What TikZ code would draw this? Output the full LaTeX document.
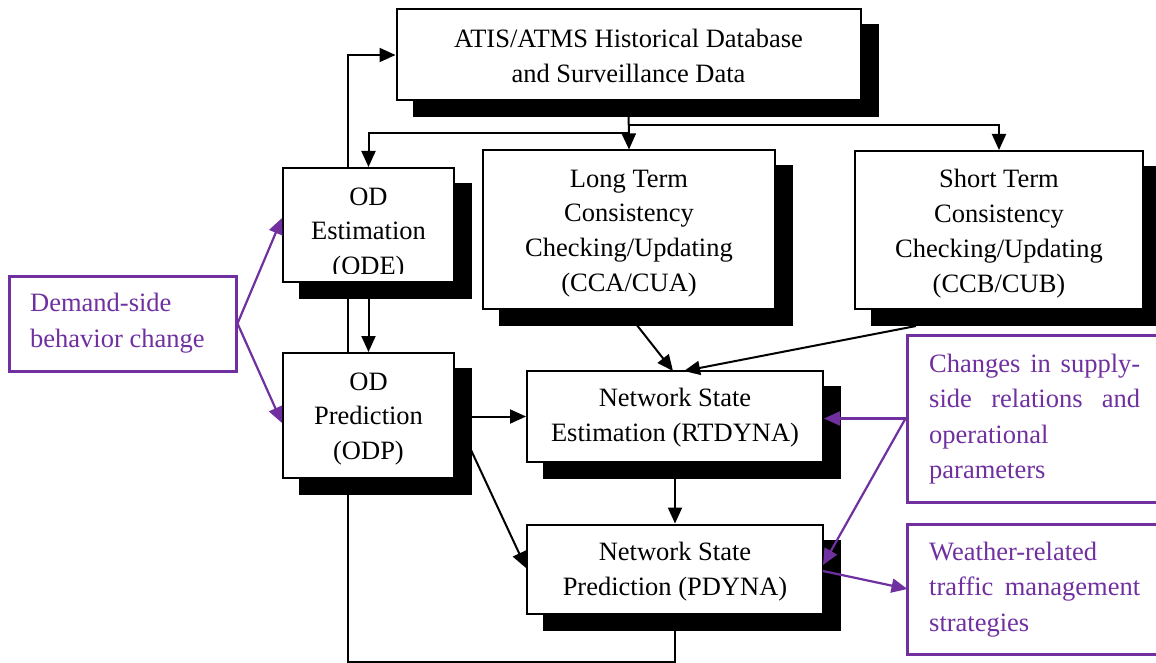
\documentclass[tikz,border=0pt]{standalone}
\usepackage{fontspec}
\setmainfont{Liberation Serif}
\usetikzlibrary{arrows.meta,backgrounds}
\definecolor{purp}{RGB}{112,48,160}
\tikzset{
  blackbox/.style={draw=black, line width=2pt, fill=white, inner sep=0pt, align=center,
    font=\fontsize{26.5}{34.8}\selectfont},
  purpbox/.style={draw=purp, line width=3pt, fill=white, inner sep=0pt},
  ptext/.style={text=purp, inner sep=0pt, align=left, anchor=north west,
    font=\fontsize{26.5}{35.5}\selectfont},
  conn/.style={line width=2pt, -{Triangle[length=16pt,width=14pt]}},
  pconn/.style={color=purp, line width=2.2pt, -{Triangle[length=16pt,width=14pt]}},
  loopline/.style={line width=2pt},
  shadowfill/.style={fill=black}
}
\begin{document}
\begin{tikzpicture}[x=1pt,y=-1pt]
\useasboundingbox (0,0) rectangle (1156,663);
\clip (0,0) rectangle (1156,663);

% black boxes
\node[blackbox, minimum width=464pt, minimum height=91pt] (atis) at (628.5,55) {};
\node[blackbox, draw=none, fill=none] (atistext) at (628.5,56) {ATIS/ATMS Historical Database\\and Surveillance Data};
\node[blackbox, minimum width=171pt, minimum height=114pt] (ode) at (368.5,225) {};
\begin{scope}
  \clip (ode.north west) rectangle ([yshift=10pt]ode.south east);
  \node[blackbox, draw=none, fill=none] (odetext) at (368.5,234) {OD\\Estimation\\(ODE)};
\end{scope}
\node[blackbox, minimum width=171pt, minimum height=125pt] (odp) at (368.5,415.5) {};
\node[blackbox, draw=none, fill=none] (odptext) at (368.5,419) {OD\\Prediction\\(ODP)};
\node[blackbox, minimum width=292pt, minimum height=158pt] (cca) at (629,229.5) {};
\node[blackbox, draw=none, fill=none] (ccatext) at (629,233.5) {Long Term\\Consistency\\Checking/Updating\\(CCA/CUA)};
\node[blackbox, minimum width=288pt, minimum height=158pt] (ccb) at (999,230) {};
\node[blackbox, draw=none, fill=none] (ccbtext) at (999,233.5) {Short Term\\Consistency\\Checking/Updating\\(CCB/CUB)};
\node[blackbox, minimum width=296pt, minimum height=91pt] (rt) at (675,416.5) {};
\node[blackbox, draw=none, fill=none] (rttext) at (675,417.5) {Network State\\Estimation (RTDYNA)};
\node[blackbox, minimum width=296pt, minimum height=89pt] (pd) at (675,569) {};
\node[blackbox, draw=none, fill=none] (pdtext) at (675,571.5) {Network State\\Prediction (PDYNA)};

% purple boxes
\node[purpbox, minimum width=227pt, minimum height=95pt] (dem) at (122.5,323.5) {};
\node[ptext] (demtext) at (30,293) {Demand-side\\behavior change};
\node[purpbox, minimum width=260pt, minimum height=167pt] (chg) at (1037,418.5) {};
\node[ptext] (chgtext) at (929,353.5) {\makebox[211pt][s]{Changes in supply-}\\\makebox[211pt][s]{side relations and}\\operational\\parameters};
\node[purpbox, minimum width=260pt, minimum height=130pt] (wea) at (1037,589) {};
\node[ptext] (weatext) at (929,541.5) {Weather-related\\\makebox[211pt][s]{traffic management}\\strategies};

% coordinates
\coordinate (loopbl) at (348,662);
\coordinate (hr) at (629,125);
\coordinate (hl) at (629,133);
\coordinate (odeS) at (368.5,298);
\coordinate (rtS) at (675,478);
\coordinate (odpE) at (471,416.5);
\coordinate (odpE2) at (471,450);
\coordinate (ccaS) at (636,324);
\coordinate (ccbS) at (916,326);
\coordinate (rtN1) at (673,371);
\coordinate (rtN2) at (684,371);
\coordinate (demE) at (dem.east);
\coordinate (chgW) at (chg.west);
\coordinate (pdE) at (823,565);
\coordinate (pdE2) at (823,571);
\coordinate (weaW) at (907.5,589);

% background: loop line and shadows
\begin{scope}[on background layer]
  \draw[loopline, -{Triangle[length=16pt,width=14pt]}] (pd.south) |- (loopbl) |- (atis.west);
  \foreach \n in {atis,ode,odp,cca,ccb,rt,pd}
    \fill[shadowfill] ([shift={(17,16)}]\n.north west) rectangle ([shift={(17,16)}]\n.south east);
\end{scope}

% black connectors
\draw[conn] (atis.south) -- (cca.north);
\draw[conn] (hr) -| (ccb.north);
\draw[conn] (hl) -| (ode.north);
\draw[conn] (odeS) -- (odp.north);
\draw[conn] (odpE) -- (rt.west);
\draw[conn] (odpE2) -- (pd.west |- 0,568);
\draw[conn] (rtS) -- (pd.north);
\draw[conn] (ccaS) -- (rtN1);
\draw[conn] (ccbS) -- (rtN2);

% purple connectors
\draw[pconn] (demE) -- ([yshift=7pt]ode.west);
\draw[pconn] (demE) -- ([yshift=-7.5pt]odp.west);
\draw[pconn] (chgW) -- (rt.east |- chgW);
\draw[pconn] (chgW) -- (pdE);
\draw[pconn] (pdE2) -- (weaW);
\end{tikzpicture}
\end{document}
